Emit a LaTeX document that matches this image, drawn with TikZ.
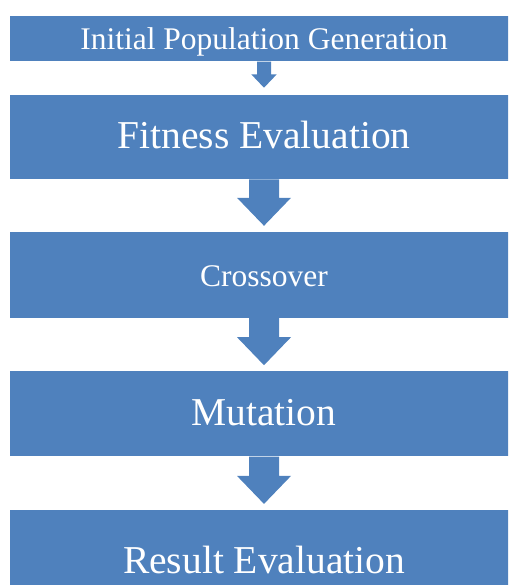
\documentclass[tikz,border=0pt]{standalone}
\usepackage{fontspec}
\setmainfont{Liberation Serif}
\usepackage{tikz}
\usetikzlibrary{positioning,calc}
\definecolor{boxblue}{RGB}{79,129,189}
\tikzset
{
    stepbox/.style  = {rectangle, fill=boxblue, text=white, inner sep=0pt, minimum width=507.7pt, anchor=north},
    smalltext/.style = {font=\fontsize{31.5}{36}\selectfont},
    bigtext/.style   = {font=\fontsize{39.5}{46}\selectfont},
    arrowfill/.style = {fill=boxblue}
}

\begin{document}
\begin{tikzpicture}[x=1pt, y=1pt]

   \path[use as bounding box, clip] (0,0) rectangle (508,-585);

   \newcommand\TIPGAP{6pt}
   % from, to, half shaft, half head, head length
   \newcommand\flowarrow[5]{%
     \fill[arrowfill] ($(#1.south)+(-#3,0)$) -- ($(#1.south)+(#3,0)$)
        -- ($(#2.north)+(#3,\TIPGAP+#5)$) -- ($(#2.north)+(#4,\TIPGAP+#5)$)
        -- ($(#2.north)+(0,\TIPGAP)$)
        -- ($(#2.north)+(-#4,\TIPGAP+#5)$) -- ($(#2.north)+(-#3,\TIPGAP+#5)$) -- cycle;}

   \node (init)  [stepbox, smalltext, text height=33.3pt, text depth=12pt]   at (264,-16)      {Initial Population Generation};
   \node (fit)   [stepbox, bigtext,   text height=54.3pt, text depth=30.4pt] [below=32.7pt of init]  {Fitness Evaluation};
   \node (cross) [stepbox, smalltext, text height=54pt,   text depth=31.7pt] [below=52.3pt of fit]   {Crossover};
   \node (mut)   [stepbox, bigtext,   text height=54.3pt, text depth=30.7pt] [below=53.3pt of cross] {Mutation};
   \node (res)   [stepbox, bigtext,   text height=63.4pt, text depth=37.3pt] [below=53.3pt of mut]   {Result Evaluation};

   \renewcommand\TIPGAP{6.7pt}
   \flowarrow{init}{fit}{7pt}{12.7pt}{13.3pt}
   \renewcommand\TIPGAP{6pt}
   \flowarrow{fit}{cross}{15pt}{27pt}{28pt}
   \flowarrow{cross}{mut}{15pt}{27pt}{28pt}
   \flowarrow{mut}{res}{15pt}{27pt}{28pt}
\end{tikzpicture}
\end{document}
